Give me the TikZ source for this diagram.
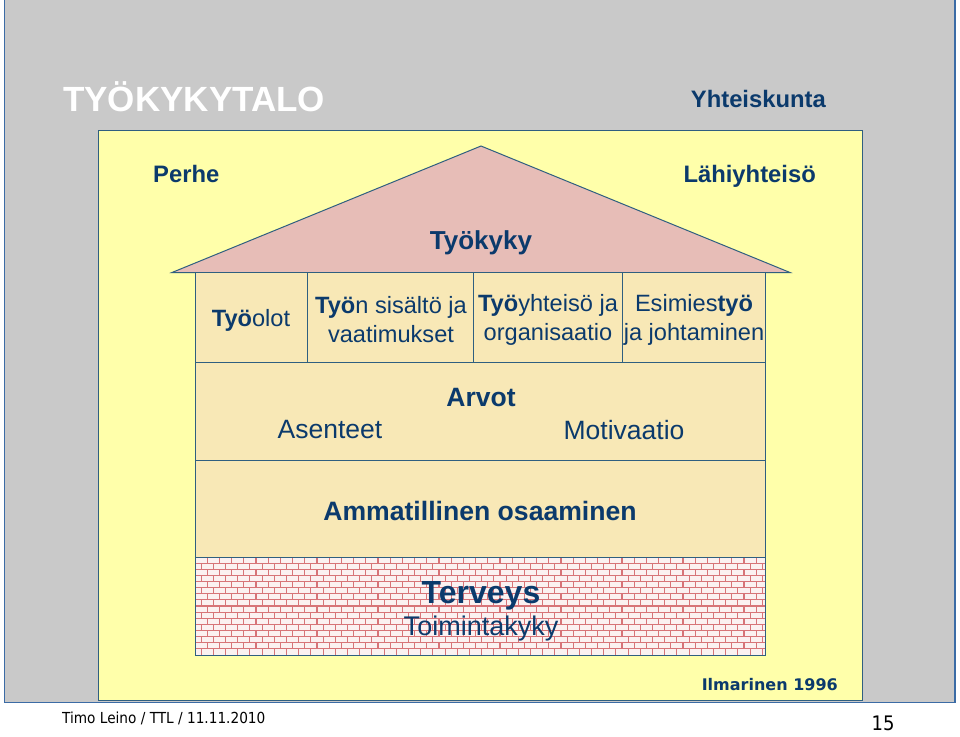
\documentclass[tikz,border=0pt]{standalone}
\usepackage{fontspec}
\setmainfont{Liberation Sans}
\newfontfamily\verdana{DejaVu Sans}
\newfontfamily\tahoma{DejaVu Sans Condensed}

\definecolor{slidegray}{HTML}{C9C9C9}
\definecolor{slideblue}{HTML}{3B6BA5}
\definecolor{yard}{HTML}{FFFFAA}
\definecolor{wall}{HTML}{F8E8B6}
\definecolor{roofpink}{HTML}{E7BDB7}
\definecolor{edge}{HTML}{2F5F80}
\definecolor{ink}{HTML}{0B3A6C}
\definecolor{mortar}{HTML}{D77478}

\tikzset{
  cell/.style={shape=rectangle, draw=edge, fill=wall, line width=1pt, inner sep=0pt},
  txt/.style={text=ink, inner sep=0pt, font=\fontsize{23.6}{29}\selectfont},
  big/.style={text=ink, inner sep=0pt, font=\fontsize{26.5}{30}\selectfont},
  outer/.style={text=ink, inner sep=0pt, font=\fontsize{23.8}{27}\selectfont\bfseries},
  brick/.style={draw=mortar, line width=1.1pt}
}

\begin{document}
\begin{tikzpicture}[x=1pt,y=-1pt]
\useasboundingbox (0,0) rectangle (960,736);

% slide and yard
\draw [fill=slidegray, draw=slideblue, line width=1.5pt] (4.5,-5) rectangle (955,702.5);
\draw [fill=yard, draw=edge, line width=1pt] (98,130.5) rectangle (862.5,700.5);

\path (63,111) node (title) [anchor=base west, text=white, inner sep=0pt, font=\fontsize{35}{38}\selectfont\bfseries] {TYÖKYKYTALO};
\path (826,107) node (society) [anchor=base east, outer] {Yhteiskunta};
\path (153,182) node (family) [anchor=base west, outer] {Perhe};
\path (816,182) node (community) [anchor=base east, outer] {Lähiyhteisö};

% roof
\coordinate (eaveL) at (172,272.5);
\coordinate (ridge) at (481,146);
\coordinate (eaveR) at (790,272.5);
\draw [fill=roofpink, draw=edge, line width=1pt] (eaveL) -- (ridge) -- (eaveR) -- cycle;
\path (481,249) node (workability) [anchor=base, txt, font=\fontsize{26}{28}\selectfont\bfseries] {Työkyky};

% first floor
\path (251,317) node (c1) [cell, minimum width=112pt, minimum height=90pt] {};
\path (390,317) node (c2) [cell, minimum width=166pt, minimum height=90pt] {};
\path (547.5,317) node (c3) [cell, minimum width=149pt, minimum height=90pt] {};
\path (693.5,317) node (c4) [cell, minimum width=143pt, minimum height=90pt] {};
\path (251,320) node (t1) [txt] {\textbf{Työ}olot};
\path (391,320) node (t2) [txt, align=center] {\textbf{Työ}n sisältö ja\\vaatimukset};
\path (548,320) node (t3) [txt, align=center] {\textbf{Työ}yhteisö ja\\organisaatio};
\path (694,320) node (t4) [txt, align=center] {Esimies\textbf{työ}\\ja johtaminen};

% values floor
\path (480,411) node (values) [cell, minimum width=570pt, minimum height=98pt] {};
\path (481,398) node (arvot) [big, font=\fontsize{26.5}{30}\selectfont\bfseries] {Arvot};
\path (330,430) node (asenteet) [big] {Asenteet};
\path (624,430) node (motivaatio) [big] {Motivaatio};

% skills floor
\path (480,508.5) node (skills) [cell, minimum width=570pt, minimum height=97pt] {};
\path (480,511) node (osaaminen) [big, font=\fontsize{26.6}{30}\selectfont\bfseries] {Ammatillinen osaaminen};

% health foundation (bricks)
\begin{scope}
\clip (195,557) rectangle (765,655);
\fill [white!90!mortar] (195,557) rectangle (765,655);
\foreach \r in {0,...,15} {
  \draw [brick] (195,{557+\r*6.125}) -- ++(570,0);
  \foreach \c in {0,...,47}
    \draw [brick] ({195+\c*12.2+mod(\r,2)*6.1},{557+\r*6.125}) -- ++(0,6.125);
}
\end{scope}
\path (480,606) node (health) [cell, fill=none, minimum width=570pt, minimum height=98pt] {};
\path (481,596) node (terveys) [big, font=\fontsize{32}{34}\selectfont\bfseries] {Terveys};
\path (481,629) node (toimintakyky) [big, font=\fontsize{27}{30}\selectfont] {Toimintakyky};

% source and footer
\path (838,685) node (source) [anchor=east, text=ink, inner sep=0pt, font=\verdana\fontsize{16}{19}\selectfont\bfseries] {Ilmarinen 1996};
\path (62,718) node (footer) [anchor=west, inner sep=0pt, font=\tahoma\fontsize{15.2}{18}\selectfont] {Timo Leino / TTL / 11.11.2010};
\path (883,723) node (page) [inner sep=0pt, font=\tahoma\fontsize{20}{24}\selectfont] {15};

\end{tikzpicture}
\end{document}
